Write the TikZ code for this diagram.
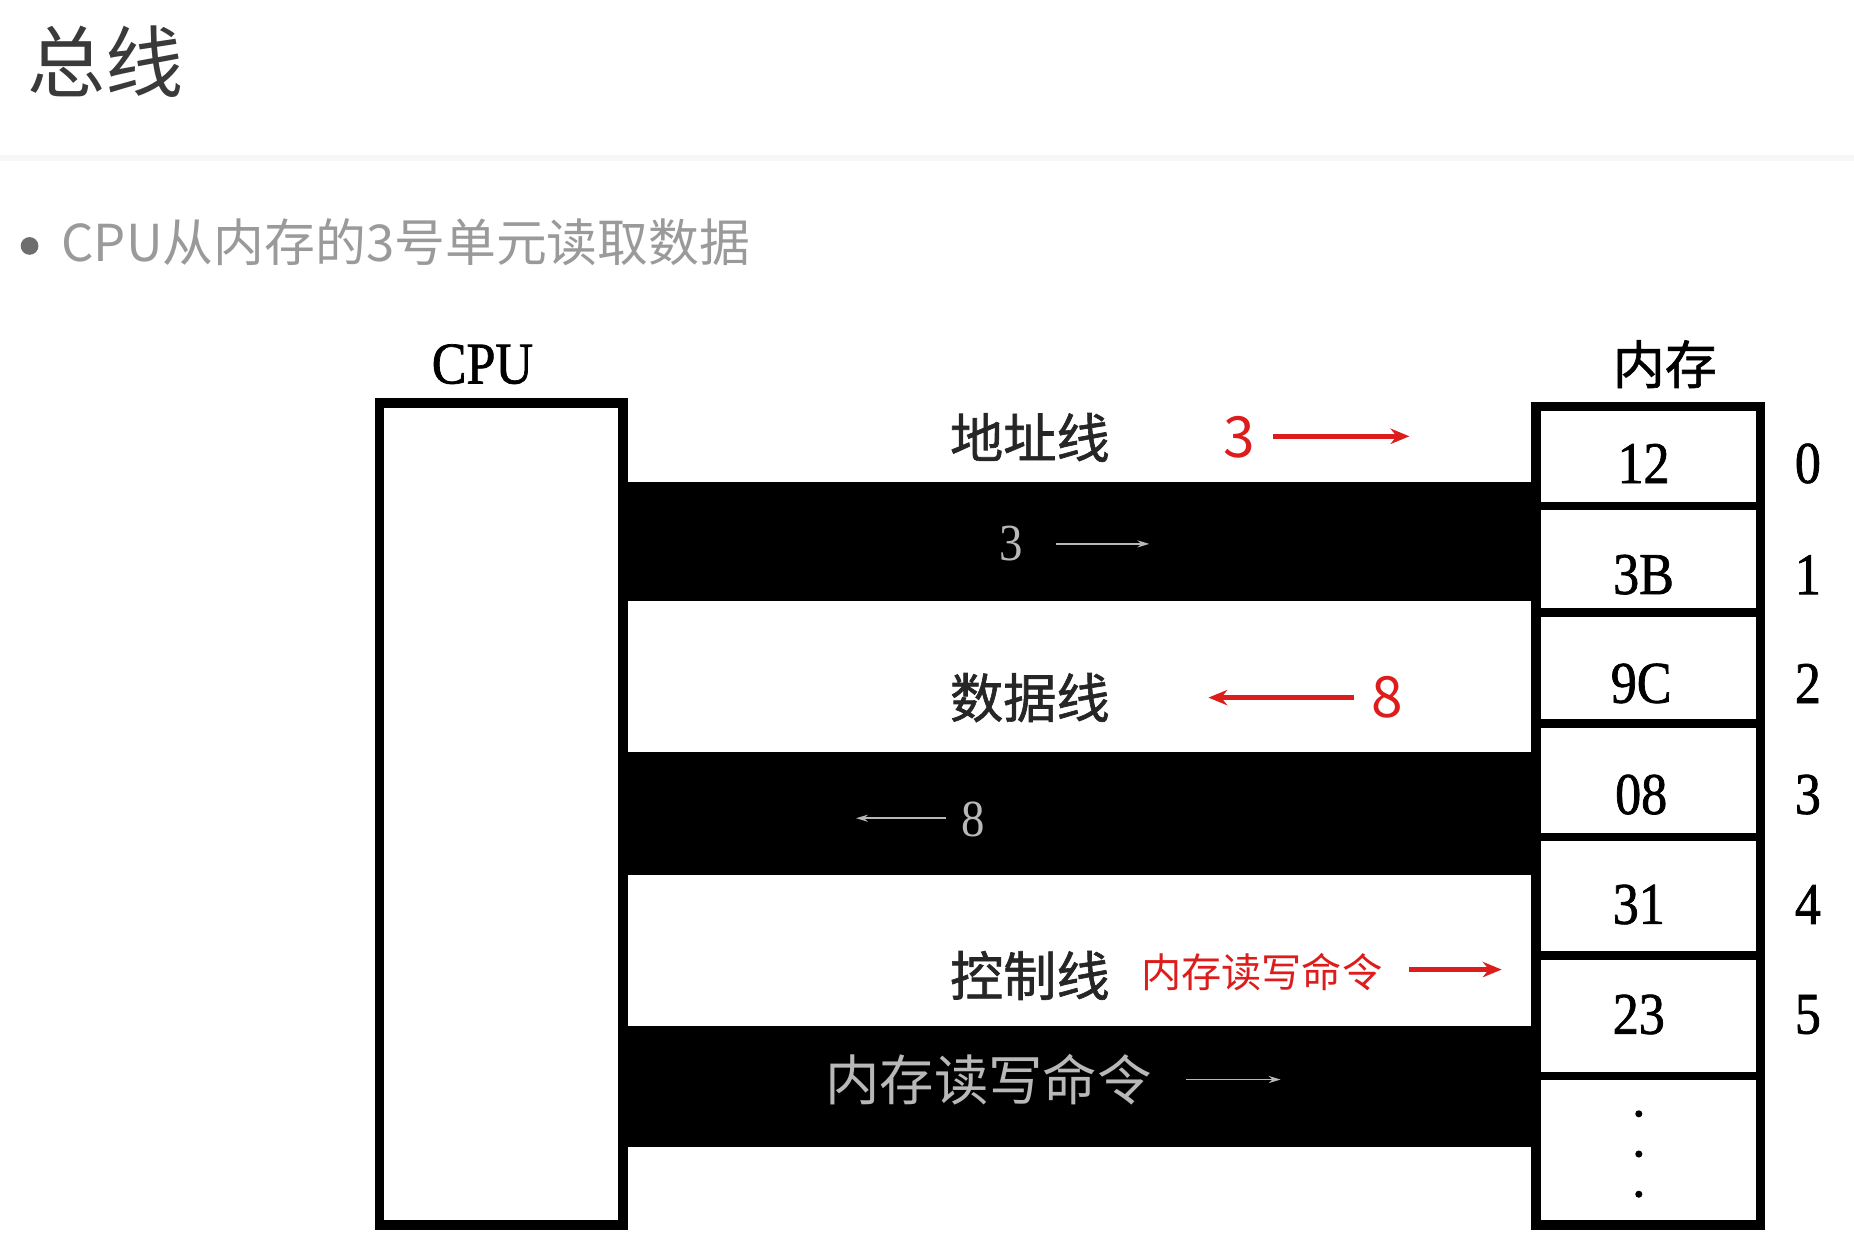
\documentclass[tikz,border=0pt]{standalone}
\usepackage{fontspec}
\setmainfont{Liberation Serif}
\newfontfamily\cjk{Noto Sans CJK SC}
\newfontfamily\cjkl[FakeBold=0]{Noto Sans CJK SC}
\newfontfamily\cjkb[FakeBold=1.2]{Noto Sans CJK SC}
\newfontfamily\serifc[FakeStretch=0.88,FakeBold=1.2]{Liberation Serif}
\newfontfamily\serifl[FakeStretch=0.9]{Liberation Serif}
\usetikzlibrary{arrows.meta}
\definecolor{titlegray}{HTML}{3A3A3A}
\definecolor{subgray}{HTML}{9A9A9A}
\definecolor{dotgray}{HTML}{6E6E6E}
\definecolor{sepgray}{HTML}{F7F7F7}
\definecolor{redc}{HTML}{DD1C1C}
\definecolor{bartext}{HTML}{B8B8B8}
\begin{document}
\begin{tikzpicture}[x=1pt,y=-1pt,
  every node/.style={inner sep=0pt,outer sep=0pt},
  titletext/.style={font=\cjk\fontsize{66}{72}\selectfont,text=titlegray},
  subtext/.style={font=\cjk\fontsize{43}{48}\selectfont,text=subgray},
  boxline/.style={draw=black,line width=8pt,fill=white},
  busbar/.style={fill=black,draw=none},
  divider/.style={draw=black,line width=7pt},
  serifnum/.style={font=\serifc\fontsize{50}{56}\selectfont,text=black},
  buslabel/.style={font=\cjkb\fontsize{45}{50}\selectfont,text=black!85},
  rednum/.style={font=\cjk\fontsize{48}{54}\selectfont,text=redc},
  redtext/.style={font=\cjk\fontsize{34}{40}\selectfont,text=redc},
  redarrow/.style={draw=redc,line width=4pt,-{Stealth[length=16pt,width=13pt]}},
  barnum/.style={font=\serifl\fontsize{44}{50}\selectfont,text=bartext},
  bartxt/.style={font=\cjk\fontsize{46}{50}\selectfont,text=bartext},
  bararrow/.style={draw=bartext,line width=1.6pt,-{Stealth[length=10pt,width=6pt]}}]
\useasboundingbox (0,0) rectangle (1568,1064);
% header
\node[titletext] (title) at (89,52) {总线};
\draw[sepgray,line width=5pt] (0,134) -- (1568,134);
\node[circle,fill=dotgray,minimum size=15pt] (dot) at (25,208) {};
\node[subtext,anchor=west] (sub) at (52,205) {CPU从内存的3号单元读取数据};
% CPU
\node[serifnum] (cpulbl) at (408,308) {CPU};
\node[boxline,minimum width=206pt,minimum height=695pt] (cpu) at (424,688.5) {};
% memory
\node[serifnum] (memlbl) at (1408,308) {\cjkb\fontsize{44}{50}\selectfont 内存};
\node[boxline,minimum width=190pt,minimum height=692pt] (mem) at (1394,690) {};
\foreach \yy in {428,518,612,708,808,910}{
  \draw[divider] (1299,\yy) -- (1489,\yy);
}
\node[serifnum] (c0) at (1390,392) {12};
\node[serifnum] (c1) at (1390,486) {3B};
\node[serifnum] (c2) at (1388,578) {9C};
\node[serifnum] (c3) at (1388,672) {08};
\node[serifnum] (c4) at (1386,765) {31};
\node[serifnum] (c5) at (1386,858) {23};
\foreach \yy in {942,976,1010}{
  \fill (1386,\yy) circle (3pt);
}
\node[serifnum] (a0) at (1529,392) {0};
\node[serifnum] (a1) at (1529,486) {1};
\node[serifnum] (a2) at (1529,578) {2};
\node[serifnum] (a3) at (1529,672) {3};
\node[serifnum] (a4) at (1529,765) {4};
\node[serifnum] (a5) at (1529,858) {5};
% buses
\node[busbar,minimum width=772pt,minimum height=100pt] (abus) at (913,458) {};
\node[busbar,minimum width=772pt,minimum height=104pt] (dbus) at (913,688) {};
\node[busbar,minimum width=772pt,minimum height=102pt] (cbus) at (913,919) {};
% address line
\node[buslabel] (alab) at (871,370) {地址线};
\node[rednum] (a3r) at (1048,370) {3};
\coordinate (ar1s) at (1077,369);
\coordinate (ar1e) at (1192,369);
\draw[redarrow] (ar1s) -- (ar1e);
\node[barnum] (a3w) at (855,460) {3};
\coordinate (ab1s) at (893,460);
\coordinate (ab1e) at (972,460);
\draw[bararrow] (ab1s) -- (ab1e);
% data line
\node[buslabel] (dlab) at (871,590) {数据线};
\node[rednum] (d8r) at (1173,590) {8};
\coordinate (dr1s) at (1145,590);
\coordinate (dr1e) at (1022,590);
\draw[redarrow] (dr1s) -- (dr1e);
\node[barnum] (d8w) at (823,693) {8};
\coordinate (db1s) at (800,692);
\coordinate (db1e) at (724,692);
\draw[bararrow] (db1s) -- (db1e);
% control line
\node[buslabel] (clab) at (871,825) {控制线};
\node[redtext] (cr) at (1067,822) {内存读写命令};
\coordinate (cr1s) at (1192,820);
\coordinate (cr1e) at (1270,820);
\draw[redarrow] (cr1s) -- (cr1e);
\node[bartxt] (cw) at (836,913) {内存读写命令};
\coordinate (cb1s) at (1003,913);
\coordinate (cb1e) at (1083,913);
\draw[bararrow] (cb1s) -- (cb1e);
\end{tikzpicture}
\end{document}
